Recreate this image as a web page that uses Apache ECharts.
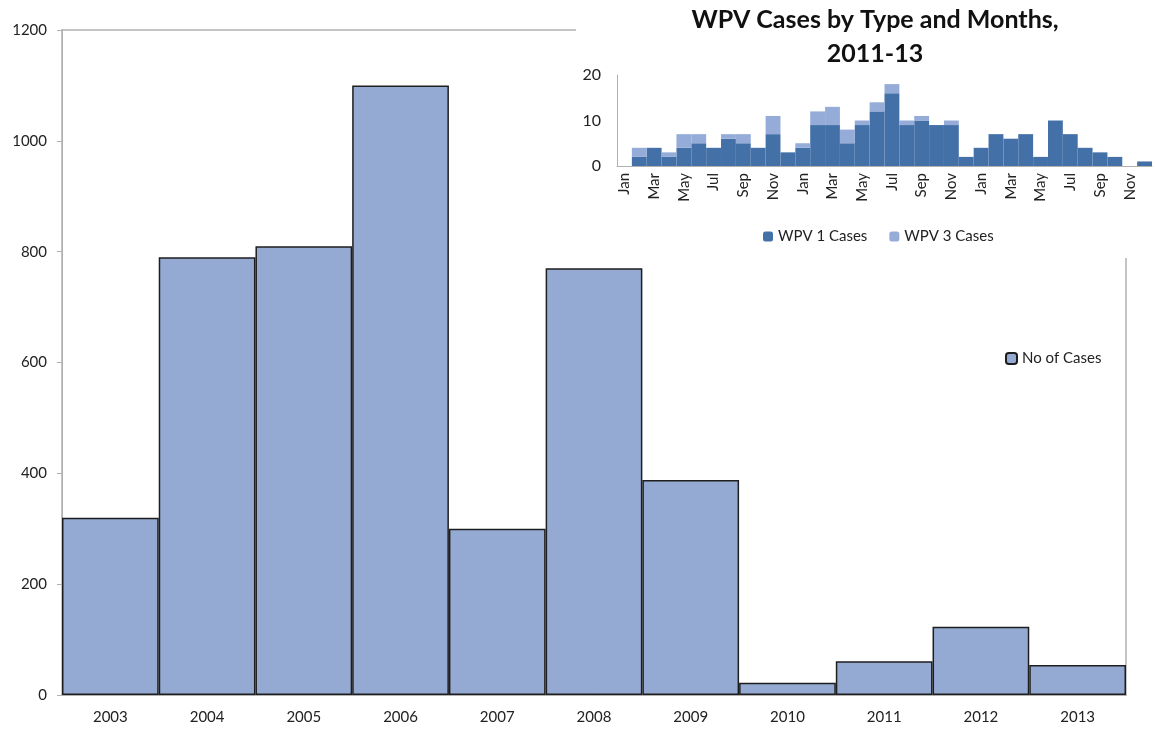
<!DOCTYPE html>
<html>
<head>
<meta charset="utf-8">
<script src="https://cdn.jsdelivr.net/npm/echarts@6/dist/echarts.min.js"></script>
<style>
  html, body { margin: 0; padding: 0; background: #fff; }
  #chart { width: 1155px; height: 731px; }
</style>
</head>
<body>
<div id="chart"></div>
<script>
// yearly cases (main chart)
const years = ["2003", "2004", "2005", "2006", "2007", "2008", "2009", "2010", "2011", "2012", "2013"];
const cases = [320, 790, 810, 1100, 300, 770, 388, 22, 61, 123, 54];

// monthly cases 2011-13 (inset)
const months = [
  "Jan", "Feb", "Mar", "Apr", "May", "Jun", "Jul", "Aug", "Sep", "Oct", "Nov", "Dec",
  "Jan", "Feb", "Mar", "Apr", "May", "Jun", "Jul", "Aug", "Sep", "Oct", "Nov", "Dec",
  "Jan", "Feb", "Mar", "Apr", "May", "Jun", "Jul", "Aug", "Sep", "Oct", "Nov", "Dec"
];
const wpv1 = [0, 2, 4, 2, 4, 5, 4, 6, 5, 4, 7, 3,
              4, 9, 9, 5, 9, 12, 16, 9, 10, 9, 9, 2,
              4, 7, 6, 7, 2, 10, 7, 4, 3, 2, 0, 1];
const wpv3 = [0, 2, 0, 1, 3, 2, 0, 1, 2, 0, 4, 0,
              1, 3, 4, 3, 1, 2, 2, 1, 1, 0, 1, 0,
              0, 0, 0, 0, 0, 0, 0, 0, 0, 0, 0, 0];

const mainTicks = [0, 200, 400, 600, 800, 1000, 1200];
const insetTicks = [0, 10, 20];

const font = "Lato, 'Open Sans', sans-serif";
const axisGray = "#b0b0b0";

let chart = echarts.init(document.getElementById("chart"));

let option = {
  animation: false,
  textStyle: { fontFamily: font },
  title: {
    text: "WPV Cases by Type and Months,\n2011-13",
    left: 870,
    top: -2,
    textAlign: "center",
    z: 20,
    textStyle: {
      fontFamily: font,
      fontSize: 25,
      fontWeight: "bold",
      color: "#111",
      lineHeight: 34,
    },
  },
  legend: [
    {
      data: ["WPV 1 Cases", "WPV 3 Cases"],
      left: 758,
      top: 224,
      itemWidth: 10,
      itemHeight: 10,
      itemGap: 22,
      z: 20,
      textStyle: { fontFamily: font, fontSize: 15, color: "#222" },
    },
    {
      data: ["No of Cases"],
      left: 1000,
      top: 346,
      itemWidth: 11,
      itemHeight: 11,
      textStyle: { fontFamily: font, fontSize: 15, color: "#222" },
    },
  ],
  graphic: [
    {
      // white panel behind the inset chart
      type: "rect",
      left: 576,
      top: 0,
      shape: { width: 579, height: 258 },
      style: { fill: "#fff" },
      z: 8,
    },
  ],
  grid: [
    // border gives the light top and right frame of the main plot
    { left: 62, right: 29, top: 30, bottom: 36, show: true, borderColor: "#c4c4c4", borderWidth: 2 },
    { left: 617, top: 75, width: 535, height: 91 },
  ],
  xAxis: [
    {
      type: "category",
      gridIndex: 0,
      data: years,
      axisLine: { lineStyle: { color: axisGray } },
      axisTick: { length: 5, lineStyle: { color: axisGray } },
      axisLabel: { fontSize: 15, color: "#222", margin: 15 },
    },
    {
      type: "category",
      gridIndex: 1,
      data: months,
      z: 12,
      axisLine: { lineStyle: { color: axisGray } },
      axisTick: { show: false },
      axisLabel: { interval: 1, rotate: 90, fontSize: 15, color: "#222", margin: 7 },
    },
  ],
  yAxis: [
    {
      type: "value",
      gridIndex: 0,
      min: mainTicks[0],
      max: mainTicks[mainTicks.length - 1],
      interval: 200,
      axisLine: { show: true, lineStyle: { color: axisGray } },
      axisTick: { show: true, length: 5, lineStyle: { color: axisGray } },
      axisLabel: { fontSize: 15, color: "#222", margin: 15, formatter: (v) => String(v) },
      splitLine: { show: false },
    },
    {
      type: "value",
      gridIndex: 1,
      min: insetTicks[0],
      max: insetTicks[insetTicks.length - 1],
      interval: 10,
      z: 12,
      axisLine: { show: true, lineStyle: { color: axisGray } },
      axisTick: { show: false },
      axisLabel: { fontSize: 16, color: "#222", margin: 16 },
      splitLine: { show: false },
    },
  ],
  series: [
    {
      name: "No of Cases",
      type: "bar",
      xAxisIndex: 0,
      yAxisIndex: 0,
      data: cases,
      barCategoryGap: 0,
      z: 2,
      itemStyle: { color: "#95aad3", borderColor: "#1e1e1e", borderWidth: 1.5 },
    },
    {
      name: "WPV 1 Cases",
      type: "bar",
      xAxisIndex: 1,
      yAxisIndex: 1,
      stack: "wpv",
      data: wpv1,
      barCategoryGap: 0,
      z: 12,
      itemStyle: { color: "#4470a8" },
    },
    {
      name: "WPV 3 Cases",
      type: "bar",
      xAxisIndex: 1,
      yAxisIndex: 1,
      stack: "wpv",
      data: wpv3,
      barCategoryGap: 0,
      z: 12,
      itemStyle: { color: "#95acd8" },
    },
  ],
};

chart.setOption(option);
</script>
</body>
</html>
